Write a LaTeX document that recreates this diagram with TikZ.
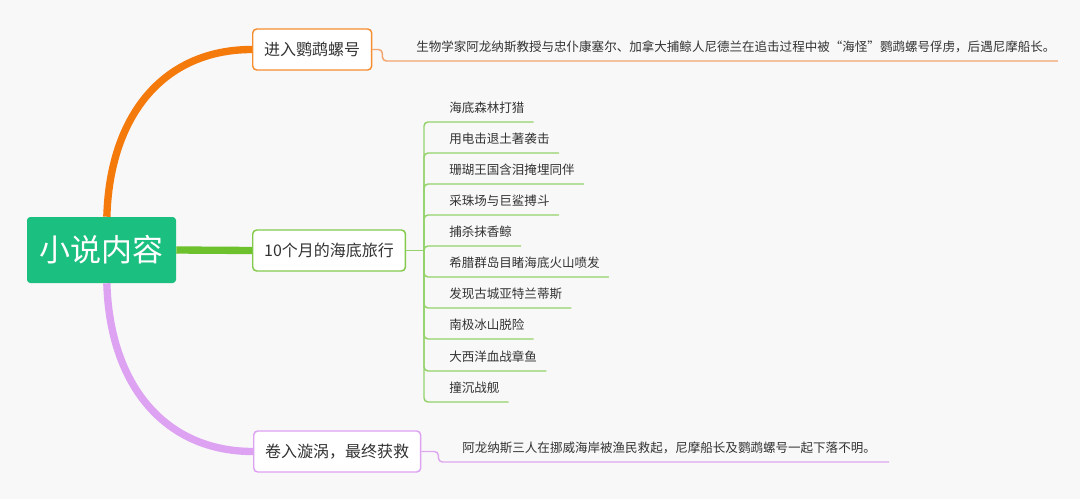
\documentclass[tikz,border=0pt]{standalone}
\usepackage{fontspec}
\setmainfont{Noto Sans CJK SC}
\usepackage{tikz}
\usetikzlibrary{positioning}
\definecolor{rootgreen}{HTML}{1BBF7F}
\definecolor{orangeline}{HTML}{F57A0C}
\definecolor{orangethin}{HTML}{F3A56E}
\definecolor{greenline}{HTML}{6DC12C}
\definecolor{greenthin}{HTML}{95D26C}
\definecolor{purpleline}{HTML}{DDA2F2}
\definecolor{purplethin}{HTML}{DEA8F0}
\definecolor{textgray}{HTML}{333333}
\definecolor{bggray}{HTML}{F8F8F8}
\tikzset{
  rootbox/.style={fill=rootgreen, text=white, rounded corners=2.5pt, minimum width=111.75pt, minimum height=49.5pt, inner sep=0pt, font=\fontsize{23.25}{26}\selectfont},
  branchbox/.style={draw, line width=1.1pt, fill=white, rounded corners=3pt, text=textgray, minimum height=30.75pt, inner xsep=8.6pt, anchor=west, font=\fontsize{12}{14}\selectfont},
  leaf/.style={anchor=south west, inner xsep=6.75pt, inner ysep=0pt, text depth=6.75pt, text=textgray, font=\fontsize{9.4}{11}\selectfont},
  detail/.style={anchor=south west, inner ysep=0pt, text depth=6.75pt, text=textgray, font=\fontsize{9.4}{11}\selectfont},
  mainline/.style={line width=5.5pt},
  subline/.style={line width=1.1pt, rounded corners=3pt}
}
\begin{document}
\begin{tikzpicture}[x=0.75pt, y=-0.75pt]

  \fill[bggray] (0,0) rectangle (1080,499);
  \useasboundingbox (0,0) rectangle (1080,499);

  \node[rootbox] (Root) at (101.5,250) {小说内容};

  \node[branchbox, draw=orangeline!85] (B1) at (252,49.5) {进入鹦鹉螺号};
  \node[branchbox, draw=greenline!85] (B2) at (252,250.5) {10个月的海底旅行};
  \node[branchbox, draw=purpleline] (B3) at (253,451.5) {卷入漩涡，最终获救};

  \coordinate (RootTop) at ([xshift=4pt]Root.north);
  \coordinate (RootBottom) at ([xshift=4pt]Root.south);

  \draw[mainline, orangeline] (RootTop) .. controls +(3,-102) and +(-88,0) .. (B1.west);
  \draw[mainline, greenline] (Root.east) -- (B2.west);
  \draw[mainline, purpleline] (RootBottom) .. controls +(3,102) and +(-88,0) .. (B3.west);

  \node[detail, inner xsep=1.5pt] (D1) at (414,61) {生物学家阿龙纳斯教授与忠仆康塞尔、加拿大捕鲸人尼德兰在追击过程中被“海怪”鹦鹉螺号俘虏，后遇尼摩船长。};
  \draw[subline, orangethin] (B1.east) -- ++(10,0) |- (D1.south east);

  \coordinate (Hub) at (424,250.5);
  \draw[subline, greenthin] (B2.east) -- (Hub);

  \node[leaf] (L1) at (440,122) {海底森林打猎};
  \node[leaf] (L2) at (440,153) {用电击退土著袭击};
  \node[leaf] (L3) at (440,184) {珊瑚王国含泪掩埋同伴};
  \node[leaf] (L4) at (440,215) {采珠场与巨鲨搏斗};
  \node[leaf] (L5) at (440,246) {捕杀抹香鲸};
  \node[leaf] (L6) at (440,277) {希腊群岛目睹海底火山喷发};
  \node[leaf] (L7) at (440,308) {发现古城亚特兰蒂斯};
  \node[leaf] (L8) at (440,339) {南极冰山脱险};
  \node[leaf] (L9) at (440,371) {大西洋血战章鱼};
  \node[leaf] (L10) at (440,402) {撞沉战舰};

  \draw[subline, greenthin] (Hub) |- (L1.south east);
  \draw[subline, greenthin] (Hub) |- (L2.south east);
  \draw[subline, greenthin] (Hub) |- (L3.south east);
  \draw[subline, greenthin] (Hub) |- (L4.south east);
  \draw[subline, greenthin] (Hub) |- (L5.south east);
  \draw[subline, greenthin] (Hub) |- (L6.south east);
  \draw[subline, greenthin] (Hub) |- (L7.south east);
  \draw[subline, greenthin] (Hub) |- (L8.south east);
  \draw[subline, greenthin] (Hub) |- (L9.south east);
  \draw[subline, greenthin] (Hub) |- (L10.south east);

  \node[detail, inner xsep=9.75pt] (D3) at (449,462) {阿龙纳斯三人在挪威海岸被渔民救起，尼摩船长及鹦鹉螺号一起下落不明。};
  \draw[subline, purplethin] (B3.east) -- ++(17,0) |- (D3.south east);

\end{tikzpicture}
\end{document}
